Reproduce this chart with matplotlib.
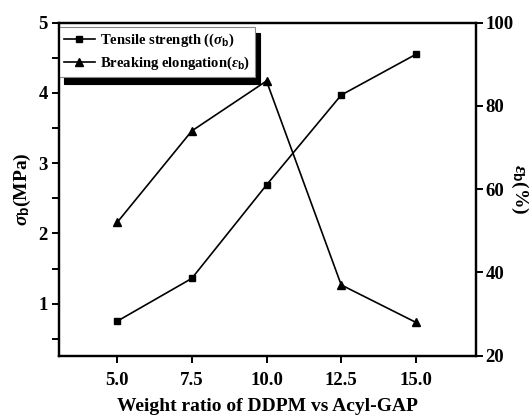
import matplotlib
matplotlib.use("Agg")
import matplotlib.pyplot as plt
from matplotlib.ticker import MultipleLocator

ratio = [5.0, 7.5, 10.0, 12.5, 15.0]
tensile = [0.75, 1.36, 2.69, 3.97, 4.55]
elong = [52, 74, 86, 37, 28]
xticks = [5.0, 7.5, 10.0, 12.5, 15.0]
xtick_labels = ["5.0", "7.5", "10.0", "12.5", "15.0"]

plt.rcParams['font.family'] = ['Liberation Serif', 'DejaVu Serif']
plt.rcParams['font.weight'] = 'bold'
plt.rcParams['mathtext.fontset'] = 'custom'
plt.rcParams['mathtext.rm'] = 'Liberation Serif:bold'
plt.rcParams['mathtext.bf'] = 'Liberation Sans:bold'
plt.rcParams['mathtext.it'] = 'Liberation Serif:italic'

fig = plt.figure(figsize=(5.30, 4.16), dpi=100)
ax = fig.add_axes([0.111, 0.145, 0.7865, 0.8004])
ax2 = ax.twinx()

l1, = ax.plot(ratio, tensile, color='black', lw=1.2, marker='s', markersize=4.5,
              label=r'Tensile strength (($\sigma_{\mathbf{b}}$)')
l2, = ax2.plot(ratio, elong, color='black', lw=1.2, marker='^', markersize=5.5,
               label=r'Breaking elongation($\varepsilon_{\mathbf{b}}$)')

ax.set_xlim(3.05, 17.0)
ax.set_ylim(0.26, 5.0)
ax2.set_ylim(20, 100)

ax.set_xticks(xticks)
ax.set_xticklabels(xtick_labels)
ax.yaxis.set_major_locator(MultipleLocator(1))
ax.yaxis.set_minor_locator(MultipleLocator(0.5))
ax2.yaxis.set_major_locator(MultipleLocator(20))

for a in (ax, ax2):
    for s in a.spines.values():
        s.set_linewidth(1.6)
ax.tick_params(axis='both', which='both', direction='out', width=1.4, labelsize=13.5)
ax.tick_params(axis='both', which='major', length=5)
ax.tick_params(axis='y', which='minor', length=5)
ax.tick_params(axis='y', pad=3)
ax.tick_params(axis='x', pad=7)
ax2.tick_params(axis='y', direction='out', width=1.4, length=5, labelsize=13.5, pad=2)
for lab in ax.get_xticklabels() + ax.get_yticklabels() + ax2.get_yticklabels():
    lab.set_fontweight('bold')

ax.set_xlabel('Weight ratio of DDPM vs Acyl-GAP', fontsize=14, fontweight='bold', labelpad=6)
ax.set_ylabel(r'$\sigma_{\mathbf{b}}$(MPa)', fontsize=14, fontweight='bold', labelpad=4)
ax2.set_ylabel(r'$\varepsilon_{\mathbf{b}}$(%)', fontsize=14, fontweight='bold', rotation=270, labelpad=12)

leg = ax.legend(handles=[l1, l2], loc='upper left', bbox_to_anchor=(0.0, 0.988),
                borderaxespad=0.0,
                prop={'weight': 'bold', 'size': 10.5},
                frameon=True, fancybox=False, framealpha=1.0,
                handlelength=2.1, handletextpad=0.35,
                borderpad=0.35, labelspacing=0.4,
                shadow={'color': 'black', 'alpha': 1.0, 'ox': 3.5, 'oy': -4.5})
leg.get_frame().set_edgecolor('#888888')
leg.get_frame().set_linewidth(0.8)

fig.savefig('out.png', dpi=100)
